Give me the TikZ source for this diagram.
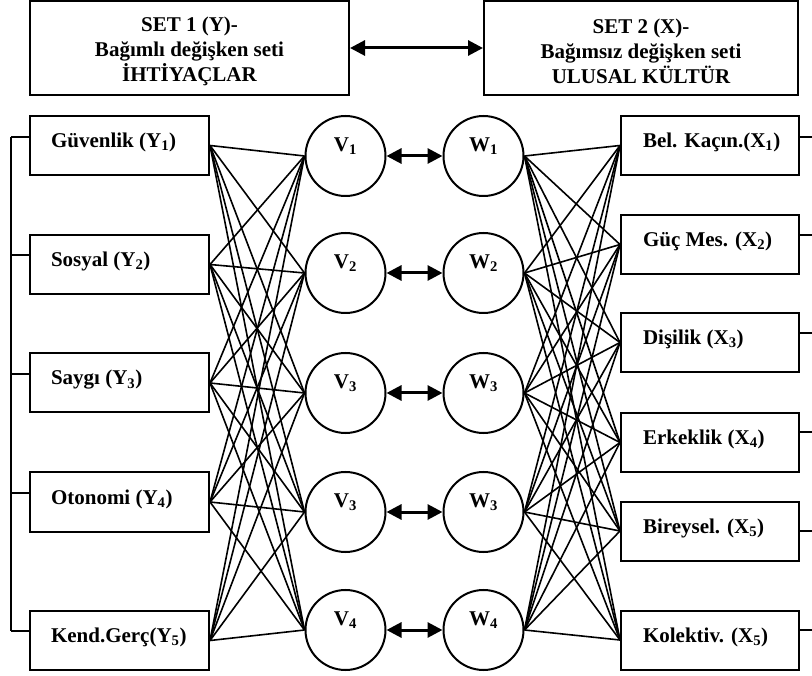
\documentclass[tikz,border=0pt]{standalone}
\usepackage{fontspec}
\setmainfont{Liberation Serif}
\usetikzlibrary{arrows.meta}
\begin{document}
\begin{tikzpicture}[x=1pt,y=-1pt,
  every node/.style={font=\fontsize{21}{25}\selectfont\bfseries},
  box/.style={draw, line width=2pt, minimum height=59pt, inner sep=0pt, text height=14pt, text depth=10pt},
  lbox/.style={box, minimum width=179pt},
  rbox/.style={box, minimum width=178pt},
  topbox/.style={draw, line width=2pt, minimum height=94pt, align=center, inner sep=0pt},
  circ/.style={draw, circle, line width=2pt, minimum size=80pt, inner sep=0pt},
  lab/.style={yshift=9.5pt, inner sep=0pt},
  link/.style={line width=1.6pt},
  tick/.style={line width=2pt},
  biarrow/.style={line width=3pt, {Triangle[length=15pt,width=15pt]}-{Triangle[length=15pt,width=15pt]}},
]
\useasboundingbox (0,0) rectangle (812,676);

% top boxes
\node[topbox, minimum width=319pt] (set1) at (189.5,48) {\rule{0pt}{22pt}SET 1 (Y)-\\Bağımlı değişken seti\\İHTİYAÇLAR};
\node[topbox, minimum width=314pt] (set2) at (641,48) {\rule{0pt}{22pt}SET 2 (X)-\\Bağımsız değişken seti\\ULUSAL KÜLTÜR};
\draw[biarrow] (set1) -- (set2);

% left boxes
\node[lbox] (y1) at (119.5,145.5) {\makebox[137pt][l]{Güvenlik (Y\textsubscript{1})}};
\node[lbox] (y2) at (119.5,264.5) {\makebox[137pt][l]{Sosyal (Y\textsubscript{2})}};
\node[lbox] (y3) at (119.5,383) {\makebox[137pt][l]{Saygı (Y\textsubscript{3})}};
\node[lbox] (y4) at (119.5,502) {\makebox[137pt][l]{Otonomi (Y\textsubscript{4})}};
\node[lbox] (y5) at (119.5,640.5) {\makebox[137pt][l]{Kend.Gerç(Y\textsubscript{5})}};

% right boxes
\node[rbox] (x1) at (710,145.5) {\makebox[134pt][l]{Bel. Kaçın.(X\textsubscript{1})}};
\node[rbox] (x2) at (710,244.5) {\makebox[134pt][l]{Güç Mes. (X\textsubscript{2})}};
\node[rbox] (x3) at (710,342.5) {\makebox[134pt][l]{Dişilik (X\textsubscript{3})}};
\node[rbox] (x4) at (710,442.5) {\makebox[134pt][l]{Erkeklik (X\textsubscript{4})}};
\node[rbox] (x5) at (710,531) {\makebox[134pt][l]{Bireysel. (X\textsubscript{5})}};
\node[rbox] (x6) at (710,640) {\makebox[134pt][l]{Kolektiv. (X\textsubscript{5})}};

% circles
\node[circ, label={[lab]center:V\textsubscript{1}}] (v1) at (345.5,156) {};
\node[circ, label={[lab]center:V\textsubscript{2}}] (v2) at (345.5,273) {};
\node[circ, label={[lab]center:V\textsubscript{3}}] (v3) at (345.5,393) {};
\node[circ, label={[lab]center:V\textsubscript{3}}] (v4) at (345.5,512) {};
\node[circ, label={[lab]center:V\textsubscript{4}}] (v5) at (345.5,630) {};
\node[circ, label={[lab]center:W\textsubscript{1}}] (w1) at (483.5,156) {};
\node[circ, label={[lab]center:W\textsubscript{2}}] (w2) at (483.5,273) {};
\node[circ, label={[lab]center:W\textsubscript{3}}] (w3) at (483.5,393) {};
\node[circ, label={[lab]center:W\textsubscript{3}}] (w4) at (483.5,512) {};
\node[circ, label={[lab]center:W\textsubscript{4}}] (w5) at (483.5,630) {};

% V-W arrows
\foreach \i in {1,...,5} {\draw[biarrow] (v\i) -- (w\i);}

% full links
\foreach \i in {1,...,5} {
  \foreach \j in {1,...,5} {\draw[link] (y\i.east) -- (v\j.west);}
  \foreach \j in {1,...,6} {\draw[link] (w\i.east) -- (x\j.west);}
}

% left bracket
\coordinate (b1) at (11,137);
\coordinate (b2) at (11,255);
\coordinate (b3) at (11,374);
\coordinate (b4) at (11,493);
\coordinate (b5) at (11,631);
\draw[tick] (b1) -- (b5);
\foreach \i in {1,...,5} {\draw[tick] (b\i) -- (b\i -| y\i.west);}

% right ticks
\coordinate (r1) at (812,137);
\coordinate (r2) at (812,235);
\coordinate (r3) at (812,333);
\coordinate (r4) at (812,432);
\coordinate (r5) at (812,531);
\coordinate (r6) at (812,630);
\foreach \i in {1,...,6} {\draw[tick] (r\i -| x\i.east) -- (r\i);}
\end{tikzpicture}
\end{document}
